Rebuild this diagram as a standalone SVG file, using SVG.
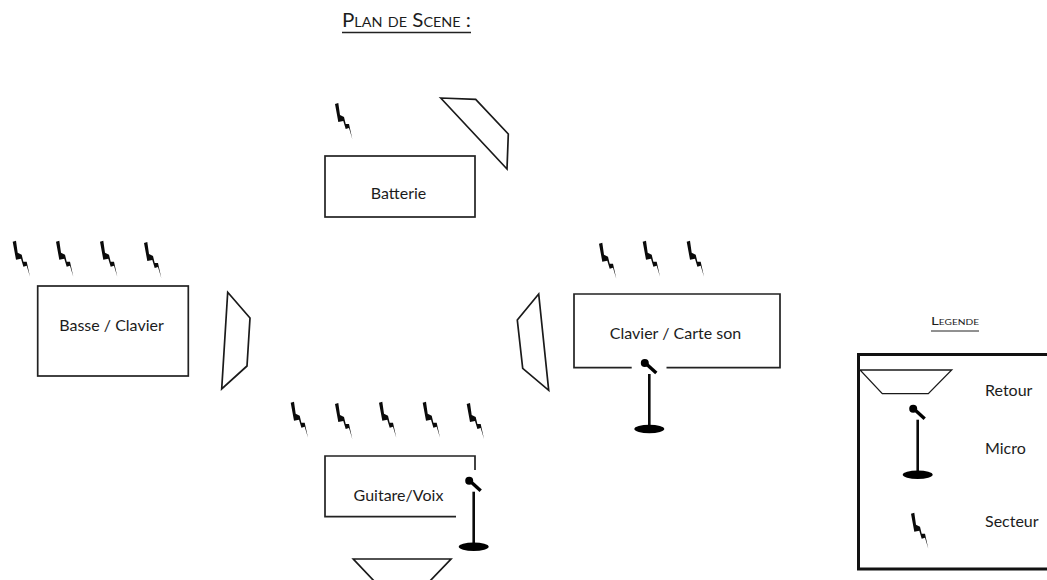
<svg xmlns="http://www.w3.org/2000/svg" xmlns:xlink="http://www.w3.org/1999/xlink" width="1047" height="580" viewBox="0 0 1047 580">
<style>
text{font-family:"Lato","Open Sans","Liberation Sans",sans-serif;font-size:16px;fill:#1c1c1c;text-anchor:middle}
.t{text-anchor:start}
.box{fill:none;stroke:#222;stroke-width:1.7}
.ret{fill:#fff;stroke:#1a1a1a;stroke-width:1.7;stroke-linejoin:miter}
.cap{font-variant:small-caps;font-weight:400;text-anchor:start}
.ul{stroke:#222;fill:none}
</style>
<defs>
<polygon id="bolt" points="0,1 3.3,0 5,12 9,14 10.7,21 14,21 17.3,36 14,25 10.7,26 8.3,18 3.3,19" fill="#0a0a0a"/>
<g id="mic">
<path d="M0,-55V0" stroke="#0a0a0a" stroke-width="2.6" fill="none"/>
<ellipse cx="0" cy="0" rx="15" ry="4.2" fill="#000"/>
<circle cx="-4.5" cy="-66" r="4" fill="#000"/>
<path d="M-4,-66L7,-56" stroke="#000" stroke-width="3.4" fill="none"/>
</g>
</defs>
<rect width="1047" height="580" fill="#fff"/>

<g id="title">
<text class="cap" x="342" y="27" font-size="20" style="font-size:20px" textLength="129" lengthAdjust="spacingAndGlyphs">Plan de Scene :</text>
<path class="ul" d="M342,32.5H471" stroke-width="1.4"/>
</g>

<g id="batterie">
<rect class="box" x="325" y="156" width="150" height="61"/>
<text x="398.5" y="199">Batterie</text>
<use xlink:href="#bolt" href="#bolt" x="335" y="103"/>
</g>
<polygon id="retour-batterie" class="ret" points="440.7,98 475.7,99.3 508.3,134 507,169"/>

<g id="basse-clavier">
<rect class="box" x="37.7" y="286" width="150.6" height="90"/>
<text x="111.5" y="331">Basse / Clavier</text>
<use href="#bolt" x="12.7" y="240.7"/>
<use href="#bolt" x="56" y="240.7"/>
<use href="#bolt" x="100" y="240.7"/>
<use href="#bolt" x="144" y="242"/>
</g>
<polygon id="retour-basse" class="ret" points="227.7,292.3 250,318 247,366 221.7,389"/>

<g id="clavier-carte-son">
<path class="box" d="M631.7,367.7H574V294H780V367.7H666.5"/>
<text x="675.5" y="339">Clavier / Carte son</text>
<use href="#bolt" x="599" y="242.7"/>
<use href="#bolt" x="642.7" y="240.7"/>
<use href="#bolt" x="686.7" y="240.7"/>
<use href="#mic" x="649.3" y="429"/>
</g>
<polygon id="retour-clavier" class="ret" points="538.7,294 517.3,320 522.7,368.3 548.7,390.3"/>

<g id="guitare-voix">
<path class="box" d="M456,516.7H325V456H475V470"/>
<text x="398.5" y="501">Guitare/Voix</text>
<use href="#bolt" x="290.7" y="401.7"/>
<use href="#bolt" x="335" y="403"/>
<use href="#bolt" x="379" y="401.7"/>
<use href="#bolt" x="422.7" y="401.7"/>
<use href="#bolt" x="466.7" y="403"/>
<use href="#mic" x="473.7" y="546.7"/>
</g>
<polygon id="retour-guitare" class="ret" points="353.3,559 451,559 429,582 375,582"/>

<g id="legende">
<text class="cap" x="931" y="325" style="font-size:12px;text-anchor:start" textLength="48" lengthAdjust="spacingAndGlyphs">Legende</text>
<path class="ul" d="M931,331H979" stroke-width="1"/>
<path d="M1050,354.5H858.5V569H1050" fill="none" stroke="#111" stroke-width="3"/>
<polygon class="ret" style="stroke-width:1.3" points="860,370 951.7,370 928.3,393.7 882.3,393.7"/>
<text class="t" x="985" y="396">Retour</text>
<use href="#mic" x="917.7" y="474.7"/>
<text class="t" x="985" y="453.7">Micro</text>
<use href="#bolt" x="911" y="512.7"/>
<text class="t" x="985" y="526.7">Secteur</text>
</g>
</svg>
